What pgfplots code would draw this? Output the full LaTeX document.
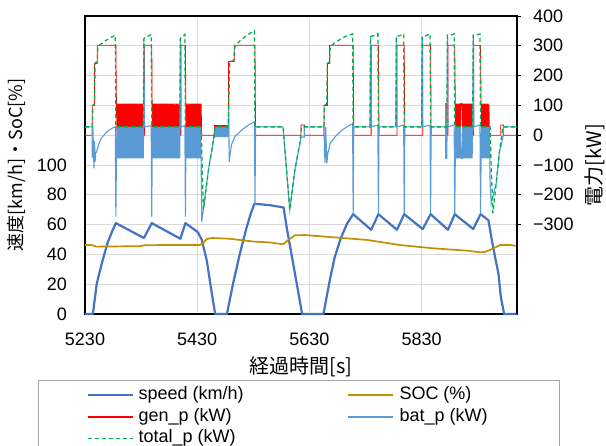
\documentclass[border=0pt]{standalone}
\usepackage{pgfplots}
\pgfplotsset{compat=1.18}
\usepackage{fontspec}
\setmainfont{Liberation Sans}
\newfontfamily\jp{Noto Sans CJK JP}
\definecolor{cSpd}{HTML}{4472C4}
\definecolor{cSoc}{HTML}{BF9000}
\definecolor{cGen}{HTML}{FF0000}
\definecolor{cBat}{HTML}{5B9BD5}
\definecolor{cTot}{HTML}{00B050}
\definecolor{cGrd}{HTML}{D9D9D9}
\pgfplotsset{
  base/.style={at={(85pt,-314pt)}, anchor=south west, scale only axis, width=432pt, height=298pt},
}
\begin{document}
\begin{tikzpicture}[font=\fontsize{18}{21}\selectfont]
\begin{axis}[base,
  xmin=5230, xmax=6000, ymin=0, ymax=200, clip=false,
  xtick={5230,5430,5630,5830}, xticklabels={5230,5430,5630,5830},
  ytick={0,20,40,60,80,100,120,140,160,180,200},
  yticklabels={0,20,40,60,80,100,{},{},{},{},{}},
  grid=major, grid style={draw=cGrd, line width=0.9pt},
  axis line style={black, line width=1.2pt},
  major tick length=0pt,
  xticklabel style={anchor=north, inner sep=0pt, yshift=-19pt},
  yticklabel style={anchor=east, inner sep=0pt, xshift=-18pt},
  xlabel={\jp 経過時間[s]}, ylabel={\jp 速度[km/h]・SoC[\%]},
  xlabel style={at={([yshift=-53pt]axis description cs:0.5,0)}, anchor=center, font=\fontsize{20}{22}\selectfont},
  ylabel style={at={([xshift=-68pt]axis description cs:0,0.5)}, anchor=center, font=\fontsize{18}{22}\selectfont},
]
\addplot[cSpd, line width=2.2pt, line join=round] coordinates {
(5230,0)(5244,0)(5251,20.5)(5260,34)(5270,47.5)(5279,56)(5285,61)(5335,51)(5349,61)(5400,50.5)(5409,61)(5431,55)(5438,50)(5447,36)(5456,14)(5462,0)(5483,0)(5494,20.5)(5506,40.5)(5518,58)(5526,68)(5532,74)(5560,73)(5584,71.5)(5590,57)(5600,36)(5610,15)(5617,0)(5655,0)(5661,12)(5667,24)(5675,38)(5686,51)(5697,60.5)(5708,67)(5740,56.5)(5753,67)(5786,56.5)(5799,67)(5832,57)(5846,67)(5877,56.5)(5889,67)(5922,57)(5935,67)(5949,63)(5955,50)(5961,38)(5967,27)(5971,12)(5977,0)(6000,0)
};
\addplot[cSoc, line width=1.7pt, line join=round] coordinates {
(5230,46.3)(5242,46.3)(5250,45.2)(5266,45.3)(5328,45.5)(5337,46.2)(5390,46.3)(5435,46.3)(5440,47.5)(5447,50.3)(5456,51)(5488,50.5)(5531,48.6)(5560,48)(5583,46.8)(5592,49.5)(5604,52.8)(5622,53)(5672,51.5)(5733,49.7)(5791,46.3)(5850,44.1)(5911,42.5)(5934,41.4)(5943,41.7)(5952,43)(5970,46.3)(5988,46.3)(6000,45.6)
};
\end{axis}
\begin{axis}[base,
  xmin=5230, xmax=6000, ymin=-600, ymax=400,
  axis x line=none, axis y line*=right,
  axis line style={black, line width=1.2pt},
  ytick={-300,-200,-100,0,100,200,300,400},
  yticklabels={−300,−200,−100,0,100,200,300,400},
  tick align=outside, major tick length=4pt, tick style={black, line width=0.8pt},
  yticklabel style={anchor=west, inner sep=0pt, xshift=12pt},
  ylabel={\jp 電力[kW]},
  ylabel style={at={([xshift=78pt]axis description cs:1,0.5)}, anchor=center, font=\fontsize{20}{22}\selectfont},
]
\addplot[cGen, line width=0.8pt] coordinates {
(5230,0)(5243,0)(5243,100)(5247,100)(5247,241)(5252,241)(5252,302)(5285,302)
(5286,106)(5287,0)(5288,106)(5289,0)(5290,106)(5291,0)(5292,106)(5293,0)(5294,106)(5295,0)(5296,106)(5297,0)(5298,106)(5299,0)(5300,106)(5301,0)(5302,106)(5303,0)(5304,106)(5305,0)(5306,106)(5307,0)(5308,106)(5309,0)(5310,106)(5311,0)(5312,106)(5313,0)(5314,106)(5315,0)(5316,106)(5317,0)(5318,106)(5319,0)(5320,106)(5321,0)(5322,106)(5323,0)(5324,106)(5325,0)(5326,106)(5327,0)(5328,106)(5329,0)(5330,106)(5331,0)(5332,106)(5333,0)(5334,106)
(5335,0)(5336,0)(5336,302)(5349,302)
(5350,0)(5351,106)(5352,0)(5353,106)(5354,0)(5355,106)(5356,0)(5357,106)(5358,0)(5359,106)(5360,0)(5361,106)(5362,0)(5363,106)(5364,0)(5365,106)(5366,0)(5367,106)(5368,0)(5369,106)(5370,0)(5371,106)(5372,0)(5373,106)(5374,0)(5375,106)(5376,0)(5377,106)(5378,0)(5379,106)(5380,0)(5381,106)(5382,0)(5383,106)(5384,0)(5385,106)(5386,0)(5387,106)(5388,0)(5389,106)(5390,0)(5391,106)(5392,0)(5393,106)(5394,0)(5395,106)(5396,0)(5397,106)(5398,0)(5399,106)
(5400,0)(5401,0)(5401,302)(5409,302)
(5410,0)(5411,106)(5412,0)(5413,106)(5414,0)(5415,106)(5416,0)(5417,106)(5418,0)(5419,106)(5420,0)(5421,106)(5422,0)(5423,106)(5424,0)(5425,106)(5426,0)(5427,106)(5428,0)(5429,106)(5430,0)(5431,106)(5432,0)(5433,106)(5434,0)(5435,106)(5436,0)(5437,106)
(5438,0)(5460,0)
(5461,34)(5462,0)(5463,34)(5464,0)(5465,34)(5466,0)(5467,34)(5468,0)(5469,34)(5470,0)(5471,34)(5472,0)(5473,34)(5474,0)(5475,34)(5476,0)(5477,34)(5478,0)(5479,34)(5480,0)(5481,34)(5482,0)(5483,34)(5484,0)(5485,34)
(5486,0)(5486,247)(5496,247)(5496,302)(5533,302)(5534,0)(5615,0)(5615,34)(5621,34)(5621,0)
(5656,0)(5656,100)(5662,100)(5662,241)(5666,241)(5666,302)(5708,302)(5709,0)
(5740,0)(5740,302)(5753,302)(5754,0)(5786,0)(5786,302)(5799,302)(5800,0)
(5832,0)(5832,302)(5846,302)(5847,0)(5873,0)(5873,106)(5875,106)(5876,0)(5877,0)(5877,302)(5889,302)
(5890,106)(5891,0)(5892,106)(5893,0)(5894,106)(5895,0)(5896,106)(5897,0)(5898,106)(5899,0)(5900,106)(5902,106)
(5903,0)(5904,106)(5905,0)(5906,106)(5907,0)(5908,106)(5909,0)(5910,106)(5911,0)(5912,106)(5913,0)(5914,106)(5915,0)(5916,106)(5917,0)(5918,106)(5919,0)(5920,106)(5921,0)
(5923,0)(5923,302)(5935,302)
(5936,106)(5937,0)(5938,106)(5939,0)(5940,106)(5941,0)(5942,106)(5943,0)(5944,106)(5945,0)(5946,106)(5947,0)(5948,106)(5949,0)(5950,106)(5951,0)
(5971,0)(5971,34)(5976,34)(5976,0)(6000,0)
};
\addplot[cBat, line width=1.1pt] coordinates {
(5230,28)(5243,28)(5243,-75)(5244,28)(5245,-40)(5246,-111)(5247,-20)(5248,-90)(5249,-60)(5251,-55)(5253,-40)(5256,-22)(5260,-8)(5266,5)(5272,16)(5278,23)(5284,28)(5285,-273)
(5286,-78)(5287,28)(5288,-78)(5289,28)(5290,-78)(5291,28)(5292,-78)(5293,28)(5294,-78)(5295,28)(5296,-78)(5297,28)(5298,-78)(5299,28)(5300,-78)(5301,28)(5302,-78)(5303,28)(5304,-78)(5305,28)(5306,-78)(5307,28)(5308,-78)(5309,28)(5310,-78)(5311,28)(5312,-78)(5313,28)(5314,-78)(5315,28)(5316,-78)(5317,28)(5318,-78)(5319,28)(5320,-78)(5321,28)(5322,-78)(5323,28)(5324,-78)(5325,28)(5326,-78)(5327,28)(5328,-78)(5329,28)(5330,-78)(5331,28)(5332,-78)(5333,28)(5334,-78)
(5335,325)(5336,28)(5348,32)(5349,-273)
(5350,28)(5351,-78)(5352,28)(5353,-78)(5354,28)(5355,-78)(5356,28)(5357,-78)(5358,28)(5359,-78)(5360,28)(5361,-78)(5362,28)(5363,-78)(5364,28)(5365,-78)(5366,28)(5367,-78)(5368,28)(5369,-78)(5370,28)(5371,-78)(5372,28)(5373,-78)(5374,28)(5375,-78)(5376,28)(5377,-78)(5378,28)(5379,-78)(5380,28)(5381,-78)(5382,28)(5383,-78)(5384,28)(5385,-78)(5386,28)(5387,-78)(5388,28)(5389,-78)(5390,28)(5391,-78)(5392,28)(5393,-78)(5394,28)(5395,-78)(5396,28)(5397,-78)(5398,28)(5399,-78)
(5400,325)(5401,28)(5408,32)(5409,-273)
(5410,28)(5411,-78)(5412,28)(5413,-78)(5414,28)(5415,-78)(5416,28)(5417,-78)(5418,28)(5419,-78)(5420,28)(5421,-78)(5422,28)(5423,-78)(5424,28)(5425,-78)(5426,28)(5427,-78)(5428,28)(5429,-78)(5430,28)(5431,-78)(5432,28)(5433,-78)(5434,28)(5435,-78)(5436,28)(5437,-78)
(5438,-290)(5441,-251)(5450,-117)(5456,-50)(5460,-3)
(5461,-6)(5462,28)(5463,-6)(5464,28)(5465,-6)(5466,28)(5467,-6)(5468,28)(5469,-6)(5470,28)(5471,-6)(5472,28)(5473,-6)(5474,28)(5475,-6)(5476,28)(5477,-6)(5478,28)(5479,-6)(5480,28)(5481,-6)(5482,28)(5483,-6)(5484,28)(5485,-6)
(5486,96)(5487,-89)(5491,-33)(5497,-5)(5509,17)(5521,34)(5532,45)(5533,-232)(5534,28)
(5583,28)(5595,-251)(5604,-117)(5613,-27)(5615,-6)(5621,-6)(5621,28)
(5656,28)(5657,-60)(5658,-94)(5659,28)(5660,-30)(5661,-94)(5663,-60)(5667,-27)(5676,-5)(5688,17)(5700,32)(5707,38)(5708,-262)(5709,28)
(5738,28)(5739,331)(5740,28)(5752,34)(5753,-262)(5754,28)
(5784,28)(5785,331)(5786,28)(5798,34)(5799,-262)(5800,28)
(5830,28)(5831,331)(5832,28)(5845,34)(5846,-262)(5847,28)
(5873,28)(5873,-78)(5875,-78)(5876,336)(5877,28)(5888,34)(5889,-262)
(5890,-78)(5891,28)(5892,-78)(5893,28)(5894,-78)(5895,28)(5896,-78)(5897,28)(5898,-78)(5899,28)(5900,-78)(5902,-78)
(5903,28)(5904,-78)(5905,28)(5906,-78)(5907,28)(5908,-78)(5909,28)(5910,-78)(5911,28)(5912,-78)(5913,28)(5914,-78)(5915,28)(5916,-78)(5917,28)(5918,-78)(5919,28)(5920,-78)(5921,28)
(5922,336)(5923,28)(5934,34)(5935,-262)
(5936,-78)(5937,28)(5938,-78)(5939,28)(5940,-78)(5941,28)(5942,-78)(5943,28)(5944,-78)(5945,28)(5946,-78)(5947,28)(5948,-78)(5949,28)(5950,-78)(5951,28)
(5952,-160)(5954,-229)(5957,-205)(5963,-161)(5969,-50)(5971,-40)(5975,-6)(5976,28)(6000,28)
};
\addplot[cTot, line width=1.3pt, dash pattern=on 4pt off 3pt] coordinates {
(5230,28)(5243,28)(5244,100)(5247,105)(5248,241)(5252,250)(5253,297)(5258,305)(5265,315)(5275,327)(5284,336)(5285,28)
(5334,28)(5335,325)(5340,330)(5348,338)(5349,28)(5399,28)(5400,325)(5404,330)(5408,338)(5409,28)
(5437,28)(5441,-251)(5450,-117)(5456,-50)(5460,-3)(5462,28)(5485,28)(5486,96)(5488,247)(5495,250)(5497,297)(5505,315)(5515,330)(5525,343)(5532,351)(5533,28)
(5583,28)(5595,-251)(5604,-117)(5613,-27)(5616,28)(5656,28)(5657,100)(5661,105)(5662,241)(5666,245)(5667,297)(5675,310)(5685,322)(5695,332)(5707,340)(5708,28)
(5738,28)(5739,331)(5745,334)(5752,340)(5753,28)(5784,28)(5785,331)(5791,334)(5798,340)(5799,28)
(5830,28)(5831,331)(5838,334)(5845,340)(5846,28)(5875,28)(5876,336)(5882,336)(5888,340)(5889,28)
(5921,28)(5922,336)(5928,336)(5934,340)(5935,28)(5952,28)(5954,-110)(5956,-200)(5957,-262)(5963,-161)(5969,-50)(5975,28)(6000,28)
};
\end{axis}
% legend, drawn through an auxiliary axis whose units are points relative to the plot area
\begin{axis}[base, hide axis, xmin=0, xmax=432, ymin=0, ymax=298, clip=false]
\addplot[cSpd, line width=2.2pt, line cap=butt] coordinates {(2.7,-81)(47.7,-81)};
\addplot[cSoc, line width=1.8pt, line cap=butt] coordinates {(263.3,-81)(308.3,-81)};
\addplot[draw=cGen, color=cGen, line width=1.8pt, line cap=butt] coordinates {(2.7,-103)(47.7,-103)};
\addplot[draw=cBat, color=cBat, line width=1.8pt, line cap=butt] coordinates {(263.3,-103)(308.3,-103)};
\addplot[cTot, line width=1.5pt, line cap=butt, dash pattern=on 4pt off 3pt] coordinates {(2.7,-124.3)(47.7,-124.3)};
\node[anchor=west, inner sep=0pt, text height=13pt, text depth=4pt] at (axis cs:53.3,-81) {speed (km/h)};
\node[anchor=west, inner sep=0pt, text height=13pt, text depth=4pt] at (axis cs:314.3,-81) {SOC (\%)};
\node[anchor=west, inner sep=0pt, text height=13pt, text depth=4pt] at (axis cs:53.3,-103.3) {gen\_p (kW)};
\node[anchor=west, inner sep=0pt, text height=13pt, text depth=4pt] at (axis cs:314.3,-103.3) {bat\_p (kW)};
\node[anchor=west, inner sep=0pt, text height=13pt, text depth=4pt] at (axis cs:53.3,-124.3) {total\_p (kW)};
\end{axis}
\draw[gray!70, line width=0.8pt] (38.3pt,-380.3pt) rectangle (559.3pt,-480pt);
\pgfresetboundingbox
\useasboundingbox (0pt,0pt) rectangle (606pt,-446pt);
\end{tikzpicture}
\end{document}
